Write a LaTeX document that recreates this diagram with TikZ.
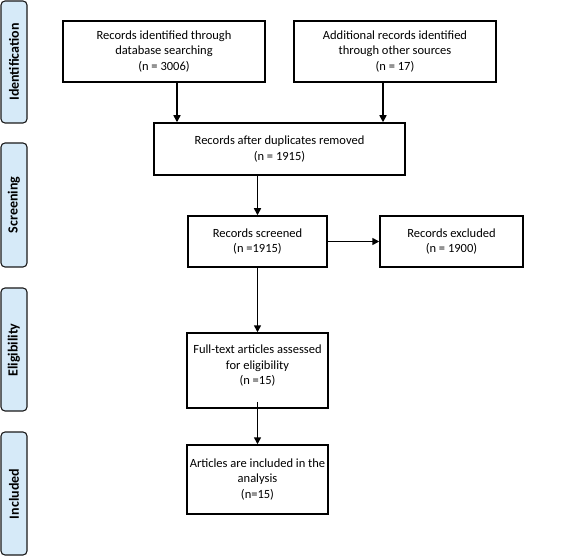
\documentclass[tikz,border=0pt]{standalone}
\usepackage{fontspec}
\setmainfont{Carlito}
\usetikzlibrary{arrows.meta}
\definecolor{barfill}{HTML}{D6EAF8}
\definecolor{barline}{HTML}{1A1A1A}
\tikzset{
  box/.style={draw=black, line width=1.5pt, fill=white, inner sep=0pt, align=center,
    font=\fontsize{12.5}{15.5}\selectfont},
  bar/.style={draw=barline, line width=1.1pt, fill=barfill, rounded corners=4pt},
  barlabel/.style={rotate=90, font=\bfseries\fontsize{14}{15}\selectfont},
  arr/.style={line width=1.6pt, -{Triangle[length=7pt,width=7pt]}},
  txt/.style={align=center, inner sep=0pt, font=\fontsize{12.5}{15.5}\selectfont}
}
\begin{document}
\begin{tikzpicture}[x=1pt,y=-1pt]
\useasboundingbox (0,0) rectangle (568,556);
% side bars
\draw[bar] (1,1) rectangle (27,123);
\node[barlabel] (lid) at (14,62) {Identification};
\draw[bar] (1,143) rectangle (27,267);
\node[barlabel] (lsc) at (14,205) {Screening};
\draw[bar] (1,288) rectangle (27,411);
\node[barlabel] (lel) at (14,350) {Eligibility};
\draw[bar] (1,432) rectangle (27,555);
\node[barlabel] (lin) at (14,494) {Included};
% boxes
\node[box, minimum width=202pt, minimum height=61pt] (b1) at (164,51.5)
  {Records identified through\\database searching\\(n = 3006)};
\node[box, minimum width=202pt, minimum height=61pt] (b2) at (395,51.5)
  {Additional records identified\\through other sources\\(n = 17)};
\node[box, minimum width=251pt, minimum height=52pt] (b3) at (279.5,149)
  {Records after duplicates removed\\(n = 1915)};
\node[box, minimum width=139pt, minimum height=51pt] (b4) at (257.5,241.5)
  {Records screened\\(n =1915)};
\node[box, minimum width=143pt, minimum height=51pt] (b5) at (451.5,241.5)
  {Records excluded\\(n = 1900)};
\node[box, minimum width=141pt, minimum height=75pt] (b6) at (257.5,370.5) {};
\node[txt] (t6) at (257.5,366) {Full-text articles assessed\\for eligibility\\(n =15)};
\node[box, minimum width=141pt, minimum height=69pt] (b7) at (257.5,479.5)
  {Articles are included in the\\analysis\\(n=15)};
% arrows
\draw[arr] ([xshift=13pt]b1.south) -- ([xshift=13pt]b1.south |- b3.north);
\draw[arr] ([xshift=-12pt]b2.south) -- ([xshift=-12pt]b2.south |- b3.north);
\draw[arr] (b4.north |- b3.south) -- (b4.north);
\draw[arr] (b4.east) -- (b5.west);
\draw[arr] (b4.south) -- (b6.north);
\draw[arr] ([yshift=7pt]b6.south) -- (b7.north);
\end{tikzpicture}
\end{document}
